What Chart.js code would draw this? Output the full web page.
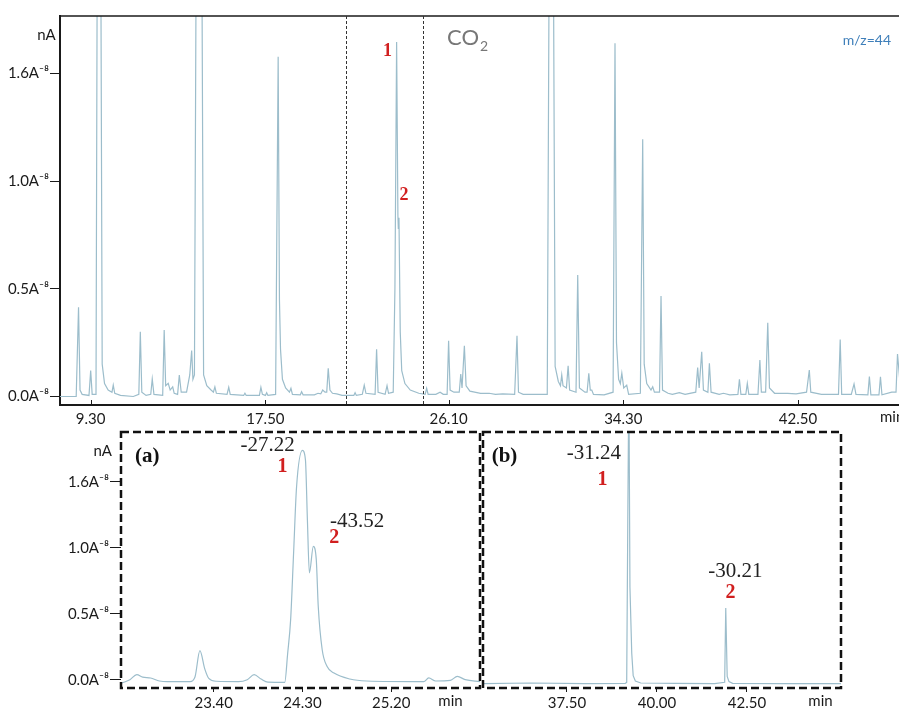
<!DOCTYPE html>
<html>
<head>
<meta charset="utf-8">
<script src="https://cdn.jsdelivr.net/npm/chart.js@4.4.1/dist/chart.umd.min.js"></script>
<style>
  html, body { margin: 0; padding: 0; background: #fff; }
  #wrap { position: relative; width: 899px; height: 709px; overflow: hidden; }
  canvas { position: absolute; }
</style>
</head>
<body>
<div id="wrap">
  <canvas id="top" width="899" height="430" style="left:0;top:0"></canvas>
  <canvas id="insetA" width="490" height="289" style="left:0;top:420px"></canvas>
  <canvas id="insetB" width="429" height="289" style="left:470px;top:420px"></canvas>
</div>
<script>
// ---- data (minutes, signal in nA x1e-8 divisions) ----
const topTicks = [9.30, 17.50, 26.10, 34.30, 42.50];
const levelTicks = [0, 0.5, 1.0, 1.5];
const levelLabels = ['0.0A⁻⁸', '0.5A⁻⁸', '1.0A⁻⁸', '1.6A⁻⁸'];
const windowMinutes = [21.27, 24.91];

const topMinutes = [
  7.86, 8.62, 8.73, 8.80, 8.90, 9.22, 9.30, 9.37, 9.55, 9.62,
  9.76, 9.84, 9.95, 10.12, 10.30, 10.36, 10.43, 10.70, 11.30, 11.56,
  11.63, 11.70, 11.90, 12.12, 12.19, 12.27, 12.68, 12.75, 12.82, 12.94,
  13.03, 13.15, 13.22, 13.38, 13.46, 13.55, 13.80, 13.95, 14.04, 14.10,
  14.17, 14.27, 14.50, 14.60, 14.75, 14.95, 15.06, 15.13, 15.20, 15.70,
  15.78, 15.85, 16.48, 16.54, 16.60, 17.22, 17.29, 17.36, 17.50, 17.56,
  17.62, 17.98, 18.10, 18.16, 18.21, 18.30, 18.45, 18.63, 18.70, 18.77,
  19.14, 19.20, 19.27, 19.80, 19.97, 20.10, 20.19, 20.30, 20.38, 20.45,
  20.53, 20.65, 20.85, 21.10, 21.65, 21.71, 21.77, 22.05, 22.14, 22.22,
  22.65, 22.72, 22.79, 23.12, 23.21, 23.28, 23.50, 23.58, 23.66, 23.72,
  23.74, 23.77, 23.83, 23.90, 24.05, 24.30, 24.70, 25.00, 25.07, 25.14,
  25.50, 25.70, 25.85, 26.03, 26.10, 26.17, 26.35, 26.60, 26.67, 26.73,
  26.84, 26.92, 27.10, 27.60, 28.00, 28.30, 28.64, 29.20, 29.31, 29.38,
  29.60, 29.85, 30.20, 30.73, 30.84, 31.00, 31.10, 31.25, 31.35, 31.41,
  31.47, 31.63, 31.71, 31.78, 32.08, 32.16, 32.24, 32.50, 32.60, 32.68,
  32.75, 32.82, 32.90, 33.40, 33.82, 33.91, 33.98, 34.08, 34.16, 34.23,
  34.32, 34.46, 34.55, 35.10, 35.21, 35.28, 35.40, 35.60, 35.68, 35.76,
  36.00, 36.07, 36.14, 36.40, 36.60, 36.93, 37.20, 37.70, 37.79, 37.86,
  37.98, 38.06, 38.27, 38.34, 38.42, 38.80, 39.00, 39.30, 39.68, 39.75, 39.82,
  40.05, 40.12, 40.19, 40.62, 40.71, 40.78, 40.98, 41.08, 41.16, 41.40,
  42.02, 42.41, 42.90, 43.03, 43.10, 43.60, 44.40, 44.48, 44.55, 45.00,
  45.13, 45.22, 45.78, 45.85, 45.92, 46.30, 46.37, 46.44, 46.90, 47.10, 47.17,
  47.30
];
const topSignal = [
  0.0, 0.0, 0.414, 0.03, 0.01, 0.005, 0.12, 0.01, 0.01, 2.5,
  2.5, 0.15, 0.06, 0.03, 0.02, 0.053, 0.015, 0.005, 0.0, 0.01,
  0.301, 0.02, 0.005, 0.01, 0.081, 0.01, 0.005, 0.309, 0.05, 0.061,
  0.03, 0.045, 0.015, 0.01, 0.100, 0.02, 0.02, 0.1, 0.213, 0.08,
  0.10, 2.5, 2.5, 0.1, 0.05, 0.03, 0.02, 0.045, 0.015, 0.01,
  0.043, 0.01, 0.005, 0.015, 0.005, 0.005, 0.043, 0.01, 0.005, 0.018,
  0.005, 0.01, 1.577, 0.45, 0.22, 0.08, 0.04, 0.02, 0.038, 0.01,
  0.008, 0.022, 0.008, 0.008, 0.015, 0.012, 0.030, 0.02, 0.02, 0.131,
  0.03, 0.015, 0.012, 0.005, 0.005, 0.018, 0.005, 0.01, 0.053, 0.015,
  0.01, 0.219, 0.02, 0.01, 0.050, 0.015, 0.02, 0.5, 1.645, 0.84,
  0.78, 0.83, 0.3, 0.12, 0.06, 0.03, 0.015, 0.01, 0.038, 0.01,
  0.01, 0.02, 0.01, 0.01, 0.259, 0.03, 0.02, 0.02, 0.104, 0.04,
  0.236, 0.05, 0.025, 0.015, 0.015, 0.01, 0.012, 0.01, 0.282, 0.02,
  0.01, 0.01, 0.01, 0.01, 2.5, 2.5, 0.14, 0.07, 0.05, 0.100,
  0.05, 0.04, 0.143, 0.03, 0.02, 0.564, 0.04, 0.02, 0.02, 0.108,
  0.03, 0.03, 0.01, 0.008, 0.02, 1.639, 0.25, 0.08, 0.06, 0.108,
  0.04, 0.053, 0.01, 0.015, 1.194, 0.15, 0.06, 0.03, 0.045, 0.02,
  0.02, 0.466, 0.03, 0.015, 0.01, 0.018, 0.01, 0.02, 0.135, 0.04,
  0.208, 0.03, 0.02, 0.154, 0.02, 0.01, 0.015, 0.008, 0.01, 0.080, 0.01,
  0.01, 0.061, 0.01, 0.01, 0.169, 0.02, 0.02, 0.342, 0.04, 0.015,
  0.015, 0.012, 0.02, 0.123, 0.02, 0.01, 0.01, 0.265, 0.01, 0.01,
  0.058, 0.01, 0.008, 0.093, 0.008, 0.008, 0.092, 0.008, 0.02, 0.02, 0.197,
  0.05
];

// inset (a): 23.40 - 25.20 min window
const aTicks = [23.40, 24.30, 25.20];
const aMinutes = [
  22.47, 22.55, 22.62, 22.68, 22.76, 22.85, 22.93, 23.16, 23.21, 23.26,
  23.31, 23.35, 23.43, 23.65, 23.74, 23.81, 23.88, 23.95, 24.12, 24.15,
  24.18, 24.21, 24.24, 24.30, 24.33, 24.35, 24.37, 24.41, 24.44, 24.46,
  24.50, 24.55, 24.62, 24.78, 24.95, 25.53, 25.58, 25.65, 25.80, 25.87,
  25.95, 26.10
];
const aSignal = [
  -0.025, 0.0, 0.038, 0.02, 0.013, -0.01, -0.015, -0.015, 0.02, 0.22,
  0.08, 0.01, -0.012, -0.015, 0.0, 0.038, 0.005, -0.018, -0.02, 0.2,
  0.455, 0.96, 1.46, 1.737, 1.667, 1.21, 0.81, 1.01, 0.91, 0.555,
  0.227, 0.10, 0.05, 0.005, -0.01, -0.015, 0.013, -0.01, -0.005, 0.025,
  0.0, -0.015
];

// inset (b): 37.50 - 42.50 min window
const bTicks = [37.50, 40.00, 42.50];
const bMinutes = [
  35.17, 36.5, 38.0, 39.12, 39.16, 39.19, 39.22, 39.25, 39.30, 39.34,
  39.40, 39.55, 40.5, 41.6, 41.88, 41.91, 41.95, 42.00, 42.10, 43.5,
  45.11
];
const bSignal = [
  -0.03, -0.025, -0.03, -0.028, -0.02, 1.2, 2.3, 0.7, 0.2, 0.03,
  -0.01, -0.025, -0.028, -0.03, -0.02, 0.543, 0.025, -0.015, -0.028, -0.03,
  -0.03
];

// ---- styles ----
const SANS = "Lato, 'Open Sans', sans-serif";
const SERIF = "'Liberation Serif', 'DejaVu Serif', serif";
const TRACE = '#9cbdcb';
const INK = '#1a1a1a';
const RED = '#d11f1f';

const toPoints = (xs, ys) => xs.map((x, i) => ({ x: x, y: ys[i] }));

function label(ctx, str, x, y, font, color, align) {
  ctx.font = font;
  ctx.fillStyle = color;
  ctx.textAlign = align || 'left';
  ctx.textBaseline = 'middle';
  ctx.fillText(str, x, y);
}

function trace(xs, ys, smooth) {
  return {
    data: toPoints(xs, ys),
    borderColor: TRACE,
    borderWidth: 1.2,
    pointRadius: 0,
    fill: false,
    tension: 0,
    cubicInterpolationMode: smooth ? 'monotone' : 'default'
  };
}

// boite pointillee des zooms
const dashedBox = {
  id: 'dashedBox',
  afterDraw(chart) {
    const { ctx, chartArea: ca } = chart;
    ctx.save();
    ctx.strokeStyle = '#111';
    ctx.lineWidth = 2.5;
    ctx.setLineDash([8, 4]);
    ctx.strokeRect(ca.left, ca.top, ca.right - ca.left, ca.bottom - ca.top);
    ctx.restore();
  }
};

const topDecor = {
  id: 'topDecor',
  afterDraw(chart) {
    const { ctx, chartArea: ca, scales: { x } } = chart;
    ctx.save();
    // cadre du haut
    ctx.strokeStyle = INK;
    ctx.lineWidth = 1.5;
    ctx.beginPath();
    ctx.moveTo(ca.left - 1, ca.top);
    ctx.lineTo(ca.right, ca.top);
    ctx.stroke();
    // petites graduations vers l'interieur
    ctx.lineWidth = 1;
    ctx.beginPath();
    x.ticks.forEach(t => {
      const px = Math.round(x.getPixelForValue(t.value)) + 0.5;
      ctx.moveTo(px, ca.bottom);
      ctx.lineTo(px, ca.bottom - 5);
    });
    ctx.stroke();
    // fenetre zoomee (a)
    ctx.strokeStyle = '#333';
    ctx.setLineDash([3, 2]);
    ctx.beginPath();
    windowMinutes.forEach(m => {
      const px = Math.round(x.getPixelForValue(m)) + 0.5;
      ctx.moveTo(px, ca.top);
      ctx.lineTo(px, ca.bottom);
    });
    ctx.stroke();
    ctx.setLineDash([]);
    // textes
    label(ctx, 'nA', 46.5, 35.5, '15px ' + SANS, INK, 'center');
    label(ctx, '1', 387.5, 51, 'bold 18px ' + SERIF, RED, 'center');
    label(ctx, '2', 404, 195.5, 'bold 18px ' + SERIF, RED, 'center');
    ctx.font = '22px ' + SANS;
    ctx.fillStyle = '#777';
    ctx.textAlign = 'left';
    ctx.textBaseline = 'alphabetic';
    ctx.fillText('CO', 447, 45);
    const w = ctx.measureText('CO').width;
    ctx.font = '14px ' + SANS;
    ctx.fillText('2', 447 + w + 1, 51);
    label(ctx, 'm/z=44', 891, 40, '14px ' + SANS, '#3f7fba', 'right');
    label(ctx, 'min', 880, 417, '15px ' + SANS, INK, 'left');
    ctx.restore();
  }
};

const insetATexts = {
  id: 'insetATexts',
  afterDraw(chart) {
    const ctx = chart.ctx;
    ctx.save();
    label(ctx, 'nA', 102.7, 30.7, '15px ' + SANS, INK, 'center');
    label(ctx, '(a)', 135, 37, 'bold 21px ' + SERIF, '#111', 'left');
    label(ctx, '-27.22', 240.5, 25.5, '21px ' + SERIF, '#222', 'left');
    label(ctx, '1', 282.5, 47, 'bold 20px ' + SERIF, RED, 'center');
    label(ctx, '-43.52', 330, 101, '21px ' + SERIF, '#222', 'left');
    label(ctx, '2', 334.2, 118.3, 'bold 20px ' + SERIF, RED, 'center');
    label(ctx, 'min', 438.3, 281, '15px ' + SANS, INK, 'left');
    ctx.restore();
  }
};

const insetBTexts = {
  id: 'insetBTexts',
  afterDraw(chart) {
    const ctx = chart.ctx;
    ctx.save();
    label(ctx, '(b)', 21.7, 37, 'bold 21px ' + SERIF, '#111', 'left');
    label(ctx, '-31.24', 96.7, 33.7, '21px ' + SERIF, '#222', 'left');
    label(ctx, '1', 132.5, 60, 'bold 20px ' + SERIF, RED, 'center');
    label(ctx, '-30.21', 238.3, 151.7, '21px ' + SERIF, '#222', 'left');
    label(ctx, '2', 260.5, 173.3, 'bold 20px ' + SERIF, RED, 'center');
    label(ctx, 'min', 338.3, 281, '15px ' + SANS, INK, 'left');
    ctx.restore();
  }
};

function insetX(min, max, ticks) {
  return {
    type: 'linear', min: min, max: max,
    grid: { display: true, drawOnChartArea: false, drawTicks: true, tickLength: 4, color: INK, lineWidth: 1 },
    border: { display: false },
    afterBuildTicks: s => { s.ticks = ticks.map(v => ({ value: v })); },
    afterFit: s => { s.height = 21; },
    ticks: { autoSkip: false, maxRotation: 0, padding: 2, color: INK, font: { family: SANS, size: 15 }, callback: v => v.toFixed(2) }
  };
}

const common = {
  responsive: false,
  animation: false,
  events: [],
  plugins: { legend: { display: false }, tooltip: { enabled: false } }
};

// chromatogramme complet
new Chart(document.getElementById('top'), {
  type: 'line',
  data: { datasets: [trace(topMinutes, topSignal, false)] },
  options: Object.assign({}, common, {
    layout: { padding: { top: 16, right: 0, left: 0, bottom: 0 } },
    scales: {
      x: {
        type: 'linear', min: 7.86, max: 47.24,
        grid: { display: false, drawTicks: false },
        border: { display: true, color: INK, width: 2 },
        afterBuildTicks: s => { s.ticks = topTicks.map(v => ({ value: v })); },
        afterFit: s => { s.height = 25; },
        ticks: { autoSkip: false, maxRotation: 0, padding: 5, color: INK, font: { family: SANS, size: 15 }, callback: v => v.toFixed(2) }
      },
      y: {
        min: -0.0394, max: 1.766,
        grid: { drawOnChartArea: false, drawTicks: true, tickLength: 10, color: INK, lineWidth: 1 },
        border: { display: true, color: INK, width: 2 },
        afterBuildTicks: s => { s.ticks = levelTicks.map(v => ({ value: v })); },
        afterFit: s => { s.width = 60; },
        ticks: { padding: 1, color: INK, font: { family: SANS, size: 15 }, callback: (v, i) => levelLabels[i] }
      }
    }
  }),
  plugins: [topDecor]
});

// zoom (a)
new Chart(document.getElementById('insetA'), {
  type: 'line',
  data: { datasets: [trace(aMinutes, aSignal, true)] },
  options: Object.assign({}, common, {
    layout: { padding: { top: 12, right: 10, left: 0, bottom: 0 } },
    scales: {
      x: insetX(22.46, 26.10, aTicks),
      y: {
        min: -0.063, max: 1.877,
        grid: { drawOnChartArea: false, drawTicks: true, tickLength: 11, color: INK, lineWidth: 1 },
        border: { display: false },
        afterBuildTicks: s => { s.ticks = levelTicks.map(v => ({ value: v })); },
        afterFit: s => { s.width = 121; },
        ticks: { padding: 1, color: INK, font: { family: SANS, size: 15 }, callback: (v, i) => levelLabels[i] }
      }
    }
  }),
  plugins: [dashedBox, insetATexts]
});

// zoom (b)
new Chart(document.getElementById('insetB'), {
  type: 'line',
  data: { datasets: [trace(bMinutes, bSignal, false)] },
  options: Object.assign({}, common, {
    layout: { padding: { top: 12, right: 58, left: 13, bottom: 0 } },
    scales: {
      x: insetX(35.17, 45.11, bTicks),
      y: { display: false, min: -0.063, max: 1.877 }
    }
  }),
  plugins: [dashedBox, insetBTexts]
});
</script>
</body>
</html>
